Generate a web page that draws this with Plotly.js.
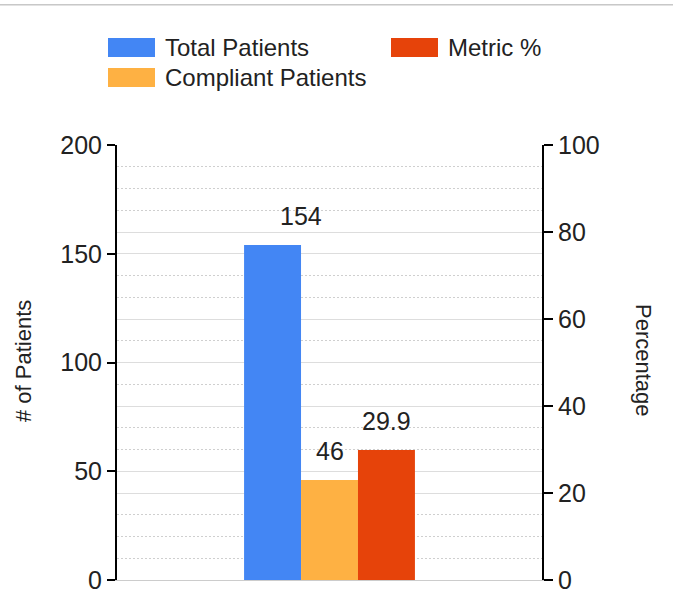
<!DOCTYPE html>
<html>
<head>
<meta charset="utf-8">
<script src="https://cdn.plot.ly/plotly-3.0.1.min.js"></script>
<style>
  html, body { margin: 0; padding: 0; background: #fff; }
  #chart { width: 673px; height: 602px; }
  #topline { position: absolute; left: 0; top: 4px; width: 673px; height: 1px; background: #c8c8c8; border-bottom: 1px solid #e2e2e2; z-index: 5; }
</style>
</head>
<body>
<div id="topline"></div>
<div id="chart"></div>
<script>
// ---- data ----
const categories = ['Metric'];
const seriesNames = ['Total Patients', 'Compliant Patients', 'Metric %'];
const totalPatients = [154];
const compliantPatients = [46];
const metricPct = [29.9];
const seriesColors = ['#4386f4', '#feb143', '#e6430a'];
const leftTicks = [0, 50, 100, 150, 200];
const rightTicks = [0, 20, 40, 60, 80, 100];
const leftTitle = '# of Patients';
const rightTitle = 'Percentage';

// ---- layout helpers (pixel -> paper) ----
const W = 673, H = 602;
const M = { l: 117, r: 131, t: 145, b: 22 };
const PW = W - M.l - M.r, PH = H - M.t - M.b;
const px = x => (x - M.l) / PW;
const py = y => (H - M.b - y) / PH;

const FONT = 'Liberation Sans, Arial, sans-serif';
const TXT = '#222222';

const barW = 0.134;
const offsets = [-0.201, -0.067, 0.067];
const values = [totalPatients, compliantPatients, metricPct];
const axes = ['y', 'y', 'y2'];

const traces = values.map((v, i) => ({
  type: 'bar',
  name: seriesNames[i],
  x: categories,
  y: v,
  width: [barW],
  offset: [offsets[i]],
  yaxis: axes[i],
  marker: { color: seriesColors[i], line: { width: 0 } },
  showlegend: false,
  hoverinfo: 'none'
}));

// value labels
const labelXShift = [28, 0, 0];
const annotations = values.map((v, i) => ({
  xref: 'x', yref: axes[i],
  x: offsets[i] + barW / 2, y: v[0],
  text: String(v[0]),
  showarrow: false,
  xanchor: 'center', yanchor: 'middle',
  xshift: labelXShift[i], yshift: 29,
  font: { family: FONT, size: 25, color: TXT }
}));

// axis titles
annotations.push({
  xref: 'paper', yref: 'paper', x: px(23), y: py(361),
  text: leftTitle, textangle: -90, showarrow: false,
  xanchor: 'center', yanchor: 'middle',
  font: { family: FONT, size: 22, color: TXT }
});
annotations.push({
  xref: 'paper', yref: 'paper', x: px(644), y: py(360),
  text: rightTitle, textangle: 90, showarrow: false,
  xanchor: 'center', yanchor: 'middle',
  font: { family: FONT, size: 22, color: TXT }
});

// custom legend
const legendPos = [
  { sx: 108, sy: 38, tx: 165 },   // Total Patients
  { sx: 108, sy: 68, tx: 165 },   // Compliant Patients
  { sx: 391, sy: 38, tx: 448 }    // Metric %
];
const shapes = [];
legendPos.forEach((p, i) => {
  shapes.push({
    type: 'rect', xref: 'paper', yref: 'paper',
    x0: px(p.sx), x1: px(p.sx + 47), y0: py(p.sy + 19), y1: py(p.sy),
    fillcolor: seriesColors[i], line: { width: 0 }, layer: 'above'
  });
  annotations.push({
    xref: 'paper', yref: 'paper', x: px(p.tx - 2), y: py(p.sy + 9.5),
    text: seriesNames[i], showarrow: false,
    xanchor: 'left', yanchor: 'middle',
    font: { family: FONT, size: 24, color: TXT }
  });
});

const layout = {
  width: W, height: H,
  margin: M,
  paper_bgcolor: '#ffffff', plot_bgcolor: '#ffffff',
  barmode: 'overlay',
  showlegend: false,
  font: { family: FONT, color: TXT },
  xaxis: {
    type: 'category', range: [-0.5, 0.5],
    showticklabels: false, ticks: '',
    showgrid: false, zeroline: false,
    showline: true, linecolor: '#cccccc', linewidth: 1,
    fixedrange: true
  },
  yaxis: {
    range: [0, 200], tickvals: leftTicks, ticktext: leftTicks.map(String),
    ticks: 'outside', ticklen: 8, tickcolor: '#000', tickwidth: 2,
    showline: true, linecolor: '#000', linewidth: 2,
    showgrid: true, gridcolor: '#dddddd', gridwidth: 1,
    zeroline: false,
    tickfont: { family: FONT, size: 25, color: TXT },
    minor: { dtick: 10, tick0: 0, showgrid: true, gridcolor: '#cfcfcf', griddash: '2px,2px', gridwidth: 1, ticks: '' },
    fixedrange: true
  },
  yaxis2: {
    overlaying: 'y', side: 'right',
    range: [0, 100], tickvals: rightTicks, ticktext: rightTicks.map(String),
    ticks: 'outside', ticklen: 9, tickcolor: '#000', tickwidth: 2,
    showline: true, linecolor: '#000', linewidth: 2,
    showgrid: true, gridcolor: '#dddddd', gridwidth: 1,
    zeroline: false,
    tickfont: { family: FONT, size: 25, color: TXT },
    fixedrange: true
  },
  annotations: annotations,
  shapes: shapes
};

Plotly.newPlot('chart', traces, layout, { displayModeBar: false, staticPlot: true });
</script>
</body>
</html>
